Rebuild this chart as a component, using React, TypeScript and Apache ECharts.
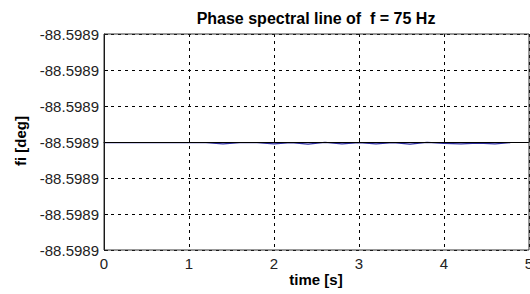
import React, { useEffect, useRef } from "react";
import * as echarts from "echarts";

// Phase of the 75 Hz spectral line: base value plus tiny deviations (in 1e-6 deg)
const phaseBase = -88.5989;
const timeSec = [
  0, 0.2, 0.4, 0.6, 0.8, 1.0, 1.2, 1.4, 1.6, 1.8, 2.0, 2.2, 2.4, 2.6, 2.8,
  3.0, 3.2, 3.4, 3.6, 3.8, 4.0, 4.2, 4.4, 4.6, 4.78,
];
const phaseDevMicro = [
  -0.02, -0.02, -0.02, -0.02, -0.02, -0.02, -0.02, -0.05, -0.02, -0.02,
  -0.05, -0.02, -0.06, -0.01, -0.05, -0.02, -0.05, -0.02, -0.06, -0.01,
  -0.04, -0.05, -0.03, -0.05, -0.02,
];
const xTicks = [0, 1, 2, 3, 4, 5];
const titleText = "Phase spectral line of  f = 75 Hz";
const xLabel = "time [s]";
const yLabel = "fi [deg]";

export default function App() {
  const ref = useRef<HTMLDivElement>(null);
  useEffect(() => {
    document.body.style.margin = "0";
    document.body.style.overflow = "hidden";
    if (!ref.current) return;
    const chart = echarts.init(ref.current, undefined, { renderer: "svg" });
    const font = "Liberation Sans, Arial, sans-serif";
    chart.setOption({
      animation: false,
      backgroundColor: "#ffffff",
      grid: {
        left: 104,
        right: 1,
        top: 34,
        bottom: 44,
        containLabel: false,
        outerBoundsMode: "none",
      },
      xAxis: {
        type: "value",
        min: xTicks[0],
        max: xTicks[xTicks.length - 1],
        interval: 1,
        z: 3,
        axisLine: { show: true, lineStyle: { color: "#000", width: 1 } },
        axisTick: { show: true, inside: true, length: 4, lineStyle: { color: "#000" } },
        axisLabel: { color: "#222", fontSize: 15, fontFamily: font, margin: 6 },
        splitLine: { show: true, lineStyle: { color: "#000", type: [3, 4], width: 1 } },
      },
      yAxis: {
        type: "value",
        min: -3,
        max: 3,
        interval: 1,
        z: 3,
        axisLine: { show: true, lineStyle: { color: "#000", width: 1 } },
        axisTick: { show: true, inside: true, length: 4, lineStyle: { color: "#000" } },
        axisLabel: {
          color: "#222",
          fontSize: 15,
          fontFamily: font,
          margin: 5,
          formatter: (v: number) => (phaseBase + v * 1e-6).toFixed(4),
        },
        splitLine: { show: true, lineStyle: { color: "#000", type: [3, 4], width: 1 } },
      },
      graphic: [
        {
          type: "rect",
          shape: { x: 104, y: 34, width: 425, height: 216 },
          style: { fill: "none", stroke: "#333", lineWidth: 1 },
          silent: true,
          z: 10,
        },
        {
          type: "text",
          x: 316,
          y: 18,
          style: {
            text: titleText,
            font: `bold 16px ${font}`,
            fill: "#000",
            align: "center",
            verticalAlign: "middle",
          },
        },
        {
          type: "text",
          x: 316,
          y: 279,
          style: {
            text: xLabel,
            font: `bold 15px ${font}`,
            fill: "#000",
            align: "center",
            verticalAlign: "middle",
          },
        },
        {
          type: "text",
          x: 20,
          y: 141,
          rotation: Math.PI / 2,
          style: {
            text: yLabel,
            font: `bold 15px ${font}`,
            fill: "#000",
            align: "center",
            verticalAlign: "middle",
          },
        },
      ],
      series: [
        {
          type: "line",
          data: timeSec.map((t, i) => [t, phaseDevMicro[i]]),
          showSymbol: false,
          lineStyle: { color: "#2b2b9e", width: 1.2 },
          z: 1,
        },
      ],
    });
    return () => chart.dispose();
  }, []);
  return <div ref={ref} style={{ width: 530, height: 294 }} />;
}
